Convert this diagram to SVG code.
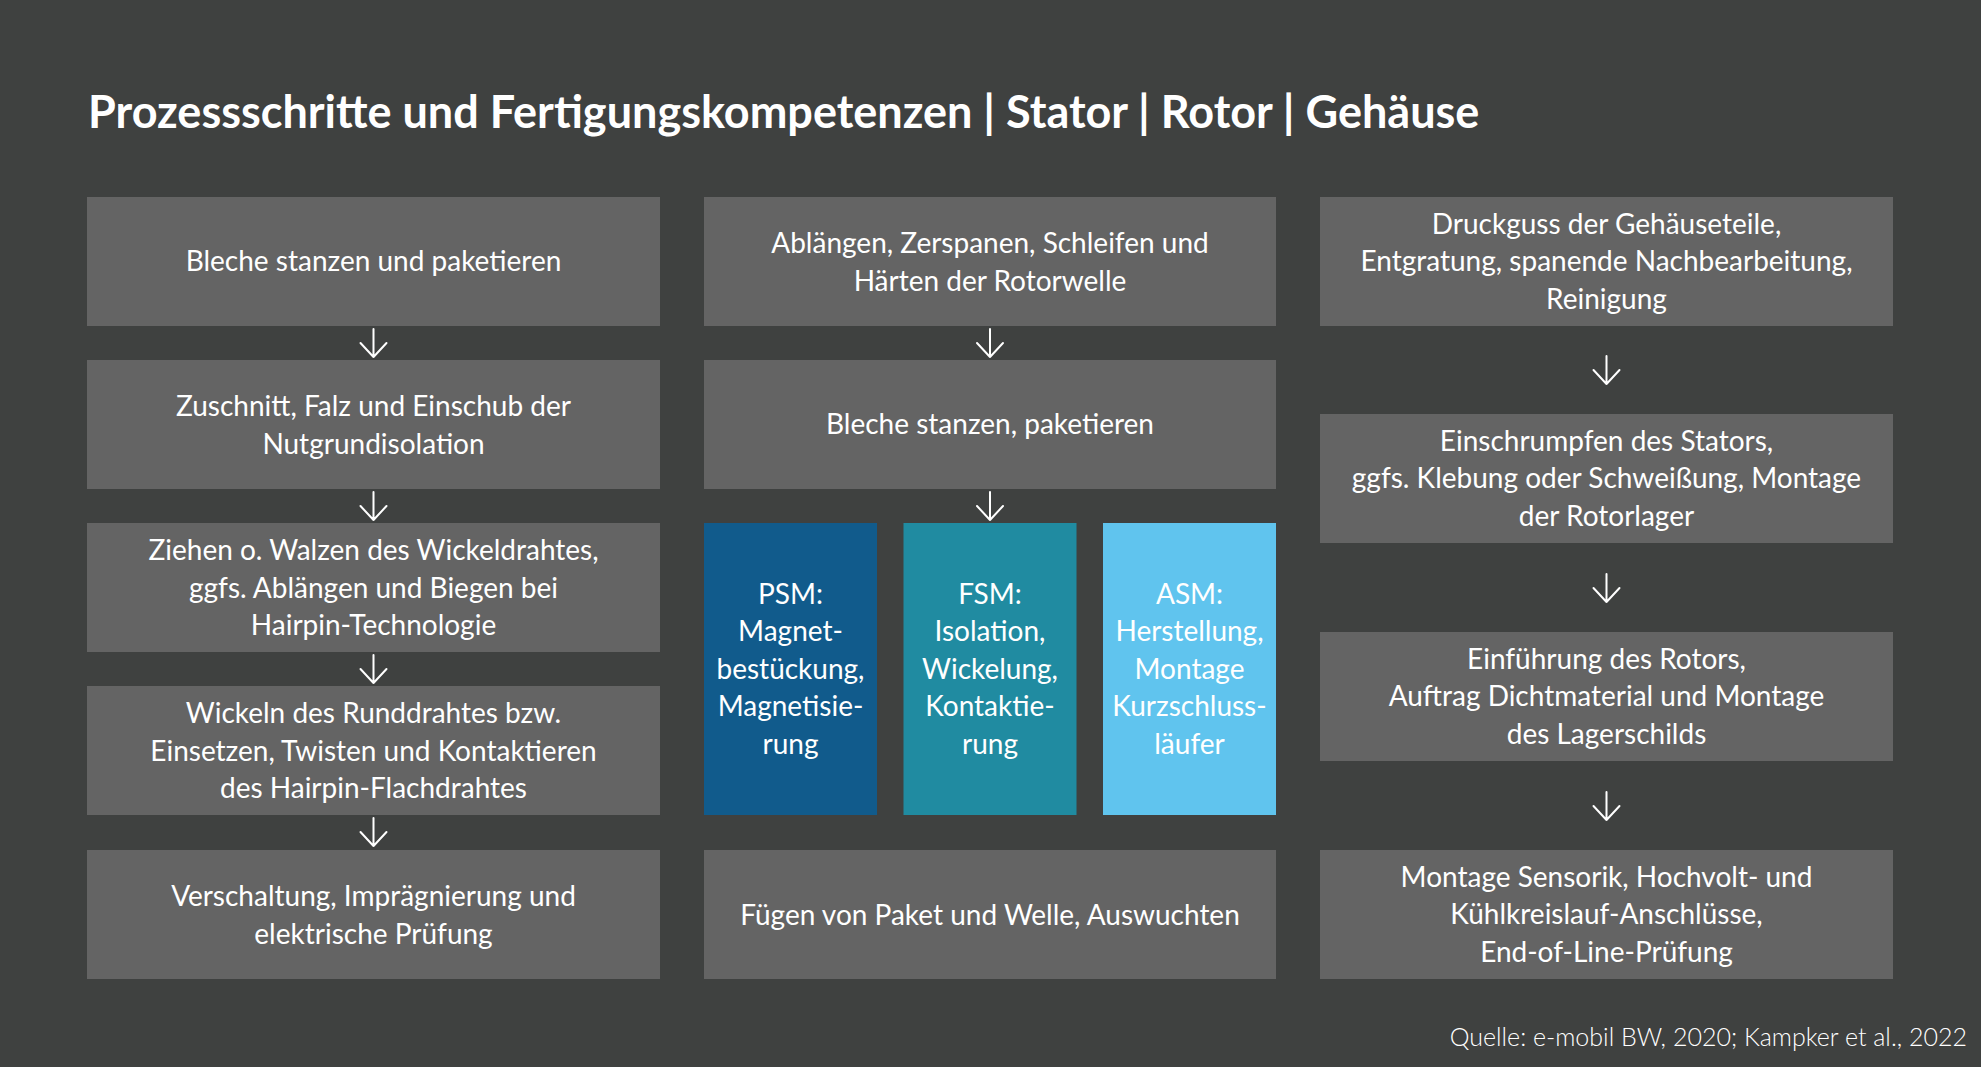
<svg xmlns="http://www.w3.org/2000/svg" width="1981" height="1067" viewBox="0 0 1981 1067">
<style>
.bg{fill:#3f4140}
.box{fill:#646464}
.psm{fill:#115b8c}
.fsm{fill:#208ba1}
.asm{fill:#60c4ee}
.t{font-family:Lato,"Liberation Sans",sans-serif;font-size:28px;fill:#ffffff;text-anchor:middle}
.title{font-family:Lato,"Liberation Sans",sans-serif;font-size:45px;font-weight:700;fill:#ffffff}
.src{font-family:Lato,"Liberation Sans",sans-serif;font-size:25px;font-weight:300;fill:#ffffff;text-anchor:end}
.arr{stroke:#ffffff;stroke-width:2;fill:none;stroke-linecap:round;stroke-linejoin:round}
</style>
<defs>
<path id="ar" class="arr" d="M0,0 V28 M-13,14 L0,28 L13,14"/>
</defs>
<rect class="bg" x="0" y="0" width="1981" height="1067"/>
<text class="title" x="88" y="128">Prozessschritte und Fertigungskompetenzen | Stator | Rotor | Gehäuse</text>

<g id="s1"><rect class="box" x="87" y="197" width="573" height="129"/><text class="t" x="373.5" y="271">Bleche stanzen und paketieren</text></g>
<g id="s2"><rect class="box" x="87" y="360" width="573" height="129"/><text class="t" x="373.5" y="416">Zuschnitt, Falz und Einschub der</text><text class="t" x="373.5" y="453.5">Nutgrundisolation</text></g>
<g id="s3"><rect class="box" x="87" y="523" width="573" height="129"/><text class="t" x="373.5" y="560">Ziehen o. Walzen des Wickeldrahtes,</text><text class="t" x="373.5" y="597.5">ggfs. Ablängen und Biegen bei</text><text class="t" x="373.5" y="635">Hairpin-Technologie</text></g>
<g id="s4"><rect class="box" x="87" y="686" width="573" height="129"/><text class="t" x="373.5" y="723">Wickeln des Runddrahtes bzw.</text><text class="t" x="373.5" y="760.5">Einsetzen, Twisten und Kontaktieren</text><text class="t" x="373.5" y="798">des Hairpin-Flachdrahtes</text></g>
<g id="s5"><rect class="box" x="87" y="850" width="573" height="129"/><text class="t" x="373.5" y="906">Verschaltung, Imprägnierung und</text><text class="t" x="373.5" y="943.5">elektrische Prüfung</text></g>

<g id="r1"><rect class="box" x="704" y="197" width="572" height="129"/><text class="t" x="990" y="253">Ablängen, Zerspanen, Schleifen und</text><text class="t" x="990" y="290.5">Härten der Rotorwelle</text></g>
<g id="r2"><rect class="box" x="704" y="360" width="572" height="129"/><text class="t" x="990" y="434">Bleche stanzen, paketieren</text></g>
<g id="psm"><rect class="psm" x="704" y="523" width="173" height="292"/><text class="t" x="790.5" y="603.5">PSM:</text><text class="t" x="790.5" y="641">Magnet-</text><text class="t" x="790.5" y="678.5">bestückung,</text><text class="t" x="790.5" y="716">Magnetisie-</text><text class="t" x="790.5" y="753.5">rung</text></g>
<g id="fsm"><rect class="fsm" x="903.5" y="523" width="173" height="292"/><text class="t" x="990" y="603.5">FSM:</text><text class="t" x="990" y="641">Isolation,</text><text class="t" x="990" y="678.5">Wickelung,</text><text class="t" x="990" y="716">Kontaktie-</text><text class="t" x="990" y="753.5">rung</text></g>
<g id="asm"><rect class="asm" x="1103" y="523" width="173" height="292"/><text class="t" x="1189.5" y="603.5">ASM:</text><text class="t" x="1189.5" y="641">Herstellung,</text><text class="t" x="1189.5" y="678.5">Montage</text><text class="t" x="1189.5" y="716">Kurzschluss-</text><text class="t" x="1189.5" y="753.5">läufer</text></g>
<g id="r5"><rect class="box" x="704" y="850" width="572" height="129"/><text class="t" x="990" y="924.5">Fügen von Paket und Welle, Auswuchten</text></g>

<g id="g1"><rect class="box" x="1320" y="197" width="573" height="129"/><text class="t" x="1606.5" y="233.5">Druckguss der Gehäuseteile,</text><text class="t" x="1606.5" y="271">Entgratung, spanende Nachbearbeitung,</text><text class="t" x="1606.5" y="308.5">Reinigung</text></g>
<g id="g2"><rect class="box" x="1320" y="414" width="573" height="129"/><text class="t" x="1606.5" y="450.5">Einschrumpfen des Stators,</text><text class="t" x="1606.5" y="488">ggfs. Klebung oder Schweißung, Montage</text><text class="t" x="1606.5" y="525.5">der Rotorlager</text></g>
<g id="g3"><rect class="box" x="1320" y="632" width="573" height="129"/><text class="t" x="1606.5" y="668.5">Einführung des Rotors,</text><text class="t" x="1606.5" y="706">Auftrag Dichtmaterial und Montage</text><text class="t" x="1606.5" y="743.5">des Lagerschilds</text></g>
<g id="g4"><rect class="box" x="1320" y="850" width="573" height="129"/><text class="t" x="1606.5" y="886.5">Montage Sensorik, Hochvolt- und</text><text class="t" x="1606.5" y="924">Kühlkreislauf-Anschlüsse,</text><text class="t" x="1606.5" y="961.5">End-of-Line-Prüfung</text></g>

<g id="connectors">
<use href="#ar" x="373.5" y="329"/>
<use href="#ar" x="373.5" y="492"/>
<use href="#ar" x="373.5" y="655"/>
<use href="#ar" x="373.5" y="818"/>
<use href="#ar" x="990" y="329"/>
<use href="#ar" x="990" y="492"/>
<use href="#ar" x="1606.5" y="356"/>
<use href="#ar" x="1606.5" y="574"/>
<use href="#ar" x="1606.5" y="792"/>
</g>

<text class="src" x="1967" y="1046">Quelle: e-mobil BW, 2020; Kampker et al., 2022</text>
</svg>
